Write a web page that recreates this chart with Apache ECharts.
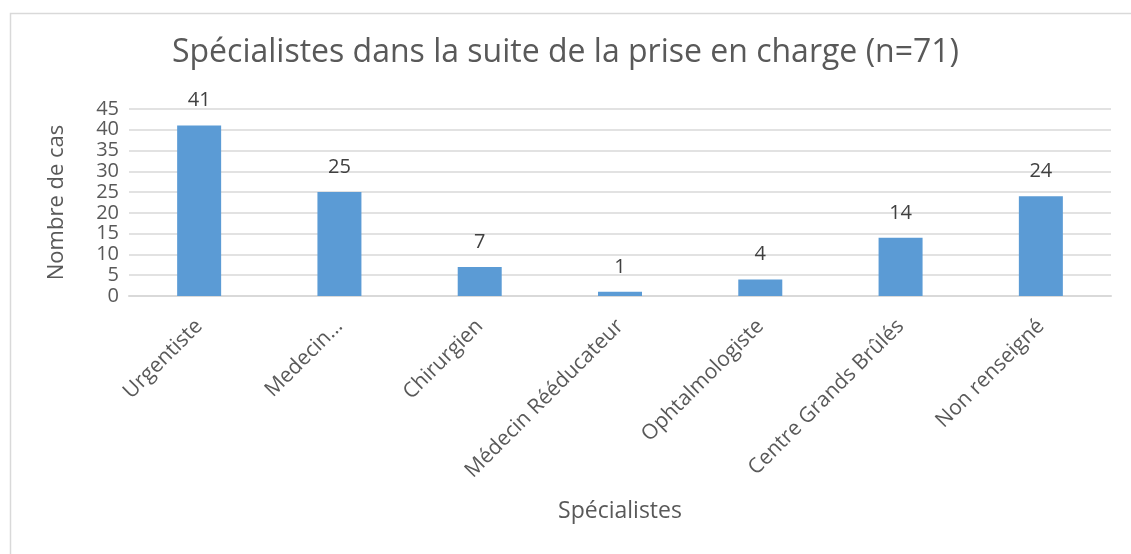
<!DOCTYPE html>
<html>
<head>
<meta charset="utf-8">
<script src="https://cdn.jsdelivr.net/npm/echarts@6/dist/echarts.min.js"></script>
<style>
  html, body { margin: 0; padding: 0; background: #fff; }
  #chart { width: 1131px; height: 554px; }
</style>
</head>
<body>
<div id="chart"></div>
<script>
    // categories as shown on the chart (Excel truncated the second one)
    var categories = ['Urgentiste', 'Medecin…', 'Chirurgien', 'Médecin Rééducateur', 'Ophtalmologiste', 'Centre Grands Brûlés', 'Non renseigné'];
    var counts = [41, 25, 7, 1, 4, 14, 24];
    var yTicks = [0, 5, 10, 15, 20, 25, 30, 35, 40, 45];

    var textColor = '#595959';
    var font = '"Open Sans", "Noto Sans", sans-serif';

    var myChart = echarts.init(document.getElementById('chart'), null, {renderer: 'canvas'});
    var option = {
        backgroundColor: '#fff',
        animation: false,
        textStyle: {fontFamily: font, color: textColor},
        graphic: [{
            type: 'rect',
            left: 8, top: 11,
            shape: {width: 1140, height: 560},
            style: {fill: 'none', stroke: '#d9d9d9', lineWidth: 1.5},
            silent: true
        }],
        title: {
            text: 'Spécialistes dans la suite de la prise en charge (n=71)',
            left: 'center',
            top: 32,
            textStyle: {fontFamily: font, fontSize: 32, fontWeight: 'normal', color: textColor}
        },
        grid: {left: 129, right: 20, top: 109, bottom: 258, containLabel: false},
        xAxis: {
            type: 'category',
            data: categories,
            name: 'Spécialistes',
            nameLocation: 'middle',
            nameGap: 204,
            nameTextStyle: {fontFamily: font, fontSize: 23, color: textColor},
            axisLine: {show: true, lineStyle: {color: '#d9d9d9', width: 2}},
            axisTick: {show: false},
            axisLabel: {rotate: 45, fontFamily: font, fontSize: 21, color: textColor, margin: 27, interval: 0}
        },
        yAxis: {
            type: 'value',
            min: yTicks[0],
            max: yTicks[yTicks.length - 1],
            interval: 5,
            name: 'Nombre de cas',
            nameLocation: 'middle',
            nameGap: 61,
            nameTextStyle: {fontFamily: font, fontSize: 22, color: textColor},
            axisLine: {show: false},
            axisTick: {show: false},
            axisLabel: {fontFamily: font, fontSize: 20, color: textColor, margin: 10, lineHeight: 20},
            splitLine: {lineStyle: {color: '#d9d9d9', width: 1.5}}
        },
        series: [{
            type: 'bar',
            data: counts,
            barWidth: 44,
            itemStyle: {color: '#5b9bd5'},
            label: {show: true, position: 'top', distance: 15, fontFamily: font, fontSize: 20, color: '#404040'}
        }]
    };
    myChart.setOption(option);
</script>
</body>
</html>
